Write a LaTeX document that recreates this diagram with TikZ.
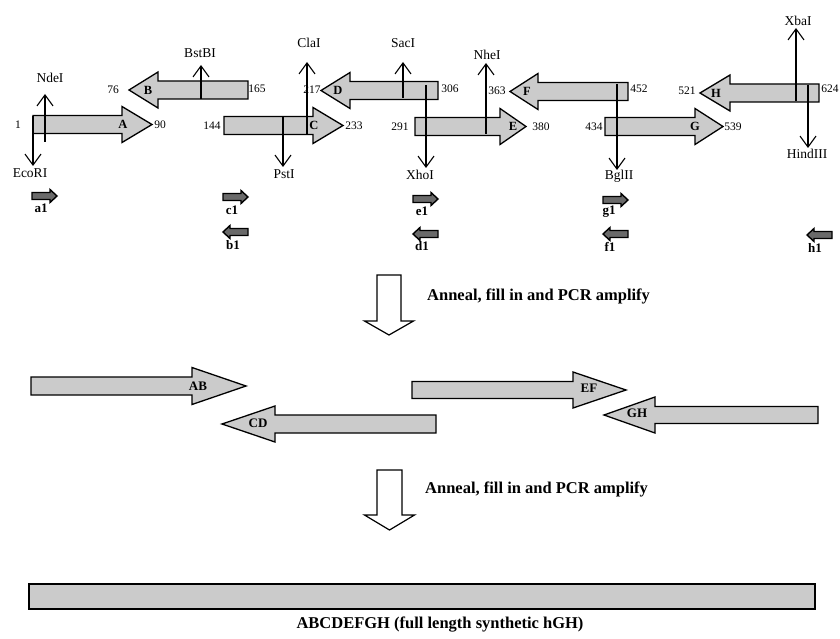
\documentclass[tikz,border=0pt]{standalone}
\usepackage{fontspec}
\setmainfont{Liberation Serif}
\usetikzlibrary{arrows.meta}
\definecolor{stipple}{HTML}{CBCBCB}
\definecolor{primerfill}{HTML}{6A6A6A}
\tikzset{
  seg/.style={draw=black,fill=stipple,line width=1.3pt,line join=miter},
  primer/.style={draw=black,fill=primerfill,line width=1.4pt},
  openarrow/.style={draw=black,fill=white,line width=1.2pt},
  site/.style={-{Straight Barb[length=11pt,width=16pt]},line width=1.1pt},
  enz/.style={font=\fontsize{13.5}{15}\selectfont,inner sep=0pt},
  num/.style={font=\fontsize{11.5}{13}\selectfont,inner sep=0pt},
  seglbl/.style={font=\bfseries\fontsize{12.5}{14}\selectfont,inner sep=0pt},
  pairlbl/.style={font=\bfseries\fontsize{13}{15}\selectfont,inner sep=0pt},
  primlbl/.style={font=\bfseries\fontsize{13}{15}\selectfont,inner sep=0pt},
  steptext/.style={font=\bfseries\fontsize{16.5}{19}\selectfont,inner sep=0pt,anchor=west}}
% tail x, head base x, tip x, centre y, half body, half head
\newcommand{\dnaarrow}[7][seg]{%
  \draw[#1] (#2,#5-#6) -- (#3,#5-#6) -- (#3,#5-#7) -- (#4,#5) -- (#3,#5+#7)
    -- (#3,#5+#6) -- (#2,#5+#6) -- cycle;}
% x left, x right, top y, head base y, tip y, half head
\newcommand{\stepdown}[6]{%
  \draw[openarrow] (#1,#3) -- (#2,#3) -- (#2,#4) -- ({(#1+#2)/2+#6},#4)
    -- ({(#1+#2)/2},#5) -- ({(#1+#2)/2-#6},#4) -- (#1,#4) -- cycle;}

\begin{document}
\begin{tikzpicture}[x=1pt,y=-1pt]
\useasboundingbox (0,0) rectangle (840,639);

% oligonucleotides A-H
\dnaarrow{33}{122}{152}{124.5}{9}{18}
\dnaarrow{248}{158}{129}{90}{9}{18}
\dnaarrow{224}{313}{343}{125.5}{9}{18}
\dnaarrow{438}{350}{321}{90.5}{9}{18}
\dnaarrow{415}{500}{526}{126.5}{9}{18}
\dnaarrow{628}{538}{510}{91.5}{9}{18}
\dnaarrow{605}{695}{723}{126.5}{9}{18}
\dnaarrow{819}{730}{700}{93}{9}{18}

\node[seglbl] (segA) at (123,124.5) {A};
\node[seglbl] (segB) at (148,90) {B};
\node[seglbl] (segC) at (314,125.5) {C};
\node[seglbl] (segD) at (338,90.5) {D};
\node[seglbl] (segE) at (513,126.5) {E};
\node[seglbl] (segF) at (527,91.5) {F};
\node[seglbl] (segG) at (695,126.5) {G};
\node[seglbl] (segH) at (716,93) {H};

\node[num] (n1) at (18,124.5) {1};
\node[num] (n90) at (160,124.5) {90};
\node[num] (n76) at (113,90) {76};
\node[num] (n165) at (257,89) {165};
\node[num] (n144) at (212,125.5) {144};
\node[num] (n233) at (354,126) {233};
\node[num] (n217) at (312,90) {217};
\node[num] (n306) at (450,89) {306};
\node[num] (n291) at (400,126.5) {291};
\node[num] (n380) at (541,127) {380};
\node[num] (n363) at (497,91) {363};
\node[num] (n452) at (639,89) {452};
\node[num] (n434) at (594,126.5) {434};
\node[num] (n539) at (733,127) {539};
\node[num] (n521) at (687,91) {521};
\node[num] (n624) at (830,89) {624};

% restriction sites
\coordinate (ndeI-s) at (45,142);   \coordinate (ndeI-t) at (45,94);
\coordinate (ecoRI-s) at (33,116);  \coordinate (ecoRI-t) at (33,166);
\coordinate (bstBI-s) at (201,99);  \coordinate (bstBI-t) at (201,65);
\coordinate (pstI-s) at (283,117);  \coordinate (pstI-t) at (283,167);
\coordinate (claI-s) at (307,134);  \coordinate (claI-t) at (307,62);
\coordinate (sacI-s) at (403,98);   \coordinate (sacI-t) at (403,62);
\coordinate (xhoI-s) at (426,85);   \coordinate (xhoI-t) at (426,168);
\coordinate (nheI-s) at (486,134);  \coordinate (nheI-t) at (486,63);
\coordinate (bglII-s) at (617,84);  \coordinate (bglII-t) at (617,170);
\coordinate (xbaI-s) at (796,101);  \coordinate (xbaI-t) at (796,28);
\coordinate (hindIII-s) at (808,85); \coordinate (hindIII-t) at (808,148);
\foreach \s in {ndeI,ecoRI,bstBI,pstI,claI,sacI,xhoI,nheI,bglII,xbaI,hindIII}
  \draw[site] (\s-s) -- (\s-t);

\node[enz] (ndeI) at (50,78) {NdeI};
\node[enz] (ecoRI) at (30,173) {EcoRI};
\node[enz] (bstBI) at (200,53) {BstBI};
\node[enz] (pstI) at (284,174) {PstI};
\node[enz] (claI) at (309,43) {ClaI};
\node[enz] (sacI) at (403,43) {SacI};
\node[enz] (xhoI) at (420,175) {XhoI};
\node[enz] (nheI) at (487,55) {NheI};
\node[enz] (bglII) at (619,176) {BglII};
\node[enz] (xbaI) at (798,21) {XbaI};
\node[enz] (hindIII) at (807,154) {HindIII};

% PCR primers
\dnaarrow[primer]{32}{50}{57}{196}{3.5}{6.5}
\dnaarrow[primer]{223}{241}{248}{197}{3.5}{6.5}
\dnaarrow[primer]{413}{431}{438}{199}{3.5}{6.5}
\dnaarrow[primer]{603}{621}{628}{200}{3.5}{6.5}
\dnaarrow[primer]{248}{230}{223}{232}{3.5}{6.5}
\dnaarrow[primer]{438}{420}{413}{234}{3.5}{6.5}
\dnaarrow[primer]{628}{610}{603}{234}{3.5}{6.5}
\dnaarrow[primer]{832}{814}{807}{235}{3.5}{6.5}

\node[primlbl] (a1) at (41,208) {a1};
\node[primlbl] (c1) at (232,210) {c1};
\node[primlbl] (e1) at (422,211) {e1};
\node[primlbl] (g1) at (609,212) {g1};
\node[primlbl] (b1) at (233,245) {b1};
\node[primlbl] (d1) at (422,246) {d1};
\node[primlbl] (f1) at (610,247) {f1};
\node[primlbl] (h1) at (815,248) {h1};

% first round
\stepdown{377}{401}{275}{321}{335}{24.5}
\node[steptext] (anneal1) at (427,296) {Anneal, fill in and PCR amplify};

\dnaarrow{31}{192}{246}{386}{9}{18.5}
\dnaarrow{436}{275}{222}{424}{9}{18}
\dnaarrow{412}{573}{626}{390}{8.5}{18}
\dnaarrow{818}{655}{604}{415}{8.5}{18}
\node[pairlbl] (segAB) at (198,386) {AB};
\node[pairlbl] (segCD) at (258,423) {CD};
\node[pairlbl] (segEF) at (589,388) {EF};
\node[pairlbl] (segGH) at (637,413) {GH};

% second round
\stepdown{377}{402}{470}{515}{530}{25}
\node[steptext] (anneal2) at (425,489) {Anneal, fill in and PCR amplify};

\draw[seg] (29,584) rectangle (815,609);
\node[steptext,anchor=center] (full) at (440,625) {ABCDEFGH (full length synthetic hGH)};
\end{tikzpicture}
\end{document}
